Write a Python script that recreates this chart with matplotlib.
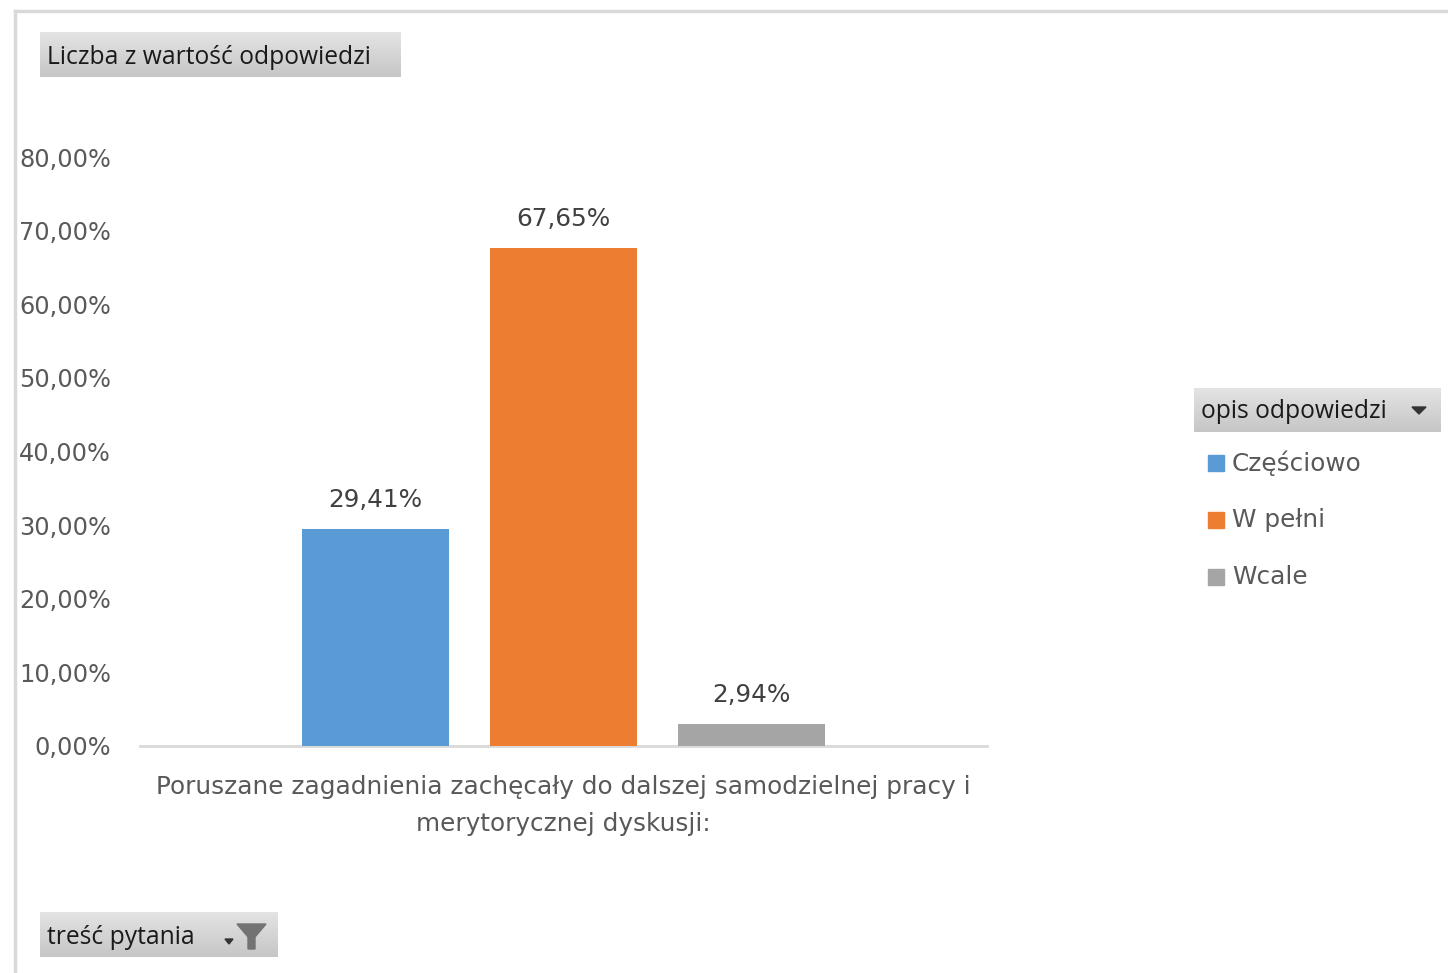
import matplotlib
matplotlib.use("Agg")
import matplotlib.pyplot as plt
import numpy as np
from matplotlib.patches import Rectangle, Polygon
from matplotlib.lines import Line2D
from matplotlib.colors import LinearSegmentedColormap

categories = ["Częściowo", "W pełni", "Wcale"]
values = [29.41, 67.65, 2.94]
colors = ["#5B9BD5", "#ED7D31", "#A5A5A5"]
yticks = [0, 10, 20, 30, 40, 50, 60, 70, 80]
xlabel_text = "Poruszane zagadnienia zachęcały do dalszej samodzielnej pracy i\nmerytorycznej dyskusji:"
title_button = "Liczba z wartość odpowiedzi"
legend_title = "opis odpowiedzi"
filter_button = "treść pytania"

W, H = 1448, 973
plt.rcParams['font.family'] = ['DejaVu Sans']
fig = plt.figure(figsize=(W / 100, H / 100), dpi=100)

def fx(x):
    return x / W

def fy(y):
    return 1 - y / H

GRAY = "#595959"
TFS = 17.3
FS = 17.8
BFS = 17.7
BFONT = ["Open Sans", "DejaVu Sans"]

# Axes
ax = fig.add_axes([fx(140), fy(746), fx(987) - fx(140), fy(157) - fy(746)])
x = np.arange(len(values))
bars = ax.bar(x, values, width=0.787, color=colors, zorder=3)
ax.set_xlim(-1.253, 3.253)
ax.set_ylim(0, 80)
ax.set_yticks(yticks)
ax.set_yticklabels([f"{v:.2f}%".replace(".", ",") for v in yticks])
ax.tick_params(axis='y', length=0, pad=21, labelsize=TFS, labelcolor=GRAY)
ax.set_xticks([1])
ax.set_xticklabels([xlabel_text], fontsize=FS, color=GRAY, linespacing=1.69)
ax.tick_params(axis='x', length=0, pad=21)
for s in ["top", "right", "left"]:
    ax.spines[s].set_visible(False)
ax.spines["bottom"].set_color("#D9D9D9")
ax.spines["bottom"].set_linewidth(2)
for xi, v in zip(x, values):
    ax.annotate(f"{v:.2f}%".replace(".", ","), (xi, v), xytext=(0, 29 * 0.72),
                textcoords="offset points", ha="center", va="center",
                fontsize=FS, color="#404040")

# Border
fig.add_artist(Line2D([fx(15), 1.0], [fy(11), fy(11)], color="#D9D9D9", lw=2.5))
fig.add_artist(Line2D([fx(15), fx(15)], [fy(11), 0.0], color="#D9D9D9", lw=2.5))

grad = np.linspace(0, 1, 50).reshape(-1, 1)
cmap = LinearSegmentedColormap.from_list("g", ["#E4E4E4", "#C6C6C6"])

def button(x0, y0, x1, y1):
    bax = fig.add_axes([fx(x0), fy(y1), fx(x1) - fx(x0), fy(y0) - fy(y1)])
    bax.imshow(grad, aspect="auto", cmap=cmap, extent=[0, 1, 0, 1], origin="upper")
    bax.set_xlim(0, 1)
    bax.set_ylim(0, 1)
    bax.axis("off")
    return bax

# Title button
button(40, 32, 401, 77)
fig.text(fx(47), fy(57), title_button, fontsize=BFS, color="#1A1A1A", va="center", ha="left",
         family=BFONT)

# Legend header
button(1194, 388, 1441, 432)
fig.text(fx(1201), fy(412), legend_title, fontsize=BFS, color="#1A1A1A", va="center", ha="left",
         family=BFONT)
fig.add_artist(Polygon([[fx(1412), fy(407)], [fx(1426), fy(407)], [fx(1419), fy(414)]],
                       closed=True, color="#333333"))

legend_y = [463, 520, 577]
for c, lab, yy in zip(categories, colors, legend_y):
    fig.add_artist(Rectangle((fx(1208), fy(yy + 8)), fx(16), 16 / H, color=lab))
    fig.text(fx(1232), fy(yy), c, fontsize=FS, color=GRAY, va="center", ha="left")

# Filter button
button(40, 912, 278, 957)
fig.text(fx(47), fy(937), filter_button, fontsize=BFS, color="#1A1A1A", va="center", ha="left",
         family=BFONT)
fig.add_artist(Polygon([[fx(237), fy(924)], [fx(266), fy(924)], [fx(255), fy(937)],
                        [fx(255), fy(949)], [fx(248), fy(949)], [fx(248), fy(937)]],
                       closed=True, color="#737373"))
fig.add_artist(Polygon([[fx(225), fy(939)], [fx(233), fy(939)], [fx(229), fy(944)]],
                       closed=True, color="#333333"))

fig.savefig("out.png", dpi=100)
